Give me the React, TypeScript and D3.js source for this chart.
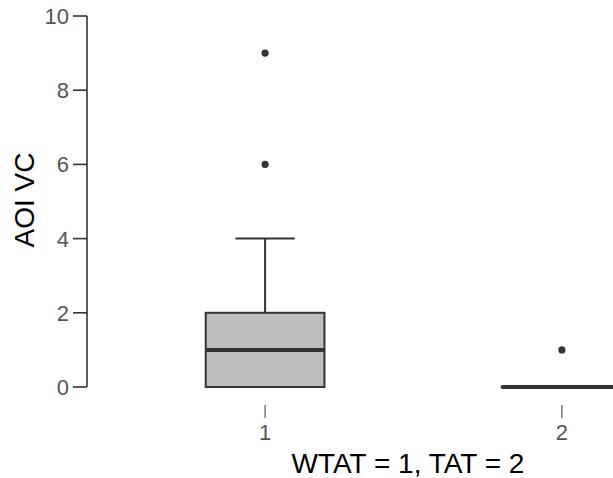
import React, { useEffect, useRef } from 'react';
import * as d3 from 'd3';

const groups = ['1', '2'];
const q1 = [0, 0];
const medians = [1, 0];
const q3 = [2, 0];
const whiskerLow = [0, 0];
const whiskerHigh = [4, 0];
const outliers = [[6, 9], [1]];
const yTicks = [0, 2, 4, 6, 8, 10];

const width = 613;
const height = 478;

const App = () => {
  const ref = useRef<SVGSVGElement>(null);

  useEffect(() => {
    const svg = d3.select(ref.current);
    svg.selectAll('*').remove();

    // discrete positions 1 and 2, with ggplot-like 0.6 expansion
    const x = d3.scaleLinear().domain([0.4, 2.6]).range([87, 740]);
    const y = d3.scaleLinear().domain([0, 10]).range([387, 16]);
    const boxW = x(1.2) - x(0.8);

    const font = 'Arial, "Liberation Sans", sans-serif';

    // y axis
    svg.append('line')
      .attr('x1', x(0.4)).attr('x2', x(0.4))
      .attr('y1', y(10)).attr('y2', y(0))
      .attr('stroke', '#333').attr('stroke-width', 1.6);

    const yt = svg.append('g');
    yt.selectAll('line').data(yTicks).enter().append('line')
      .attr('x1', x(0.4) - 14).attr('x2', x(0.4))
      .attr('y1', d => y(d)).attr('y2', d => y(d))
      .attr('stroke', '#333').attr('stroke-width', 1.6);
    yt.selectAll('text').data(yTicks).enter().append('text')
      .attr('x', x(0.4) - 18).attr('y', d => y(d))
      .attr('dy', '0.36em')
      .attr('text-anchor', 'end')
      .attr('font-family', font).attr('font-size', 22)
      .attr('fill', '#555')
      .text(d => d);

    // x ticks
    const xt = svg.append('g');
    xt.selectAll('line').data(groups).enter().append('line')
      .attr('x1', (d, i) => x(i + 1)).attr('x2', (d, i) => x(i + 1))
      .attr('y1', 405).attr('y2', 418)
      .attr('stroke', '#555').attr('stroke-width', 1.2);
    xt.selectAll('text').data(groups).enter().append('text')
      .attr('x', (d, i) => x(i + 1)).attr('y', 440)
      .attr('text-anchor', 'middle')
      .attr('font-family', font).attr('font-size', 22)
      .attr('fill', '#555')
      .text(d => d);

    // boxes
    groups.forEach((g, i) => {
      const cx = x(i + 1);
      const gg = svg.append('g');
      // whiskers
      gg.append('line')
        .attr('x1', cx).attr('x2', cx)
        .attr('y1', y(q3[i])).attr('y2', y(whiskerHigh[i]))
        .attr('stroke', '#333').attr('stroke-width', 2);
      gg.append('line')
        .attr('x1', cx).attr('x2', cx)
        .attr('y1', y(q1[i])).attr('y2', y(whiskerLow[i]))
        .attr('stroke', '#333').attr('stroke-width', 2);
      if (whiskerHigh[i] > q3[i]) {
        gg.append('line')
          .attr('x1', cx - boxW / 4).attr('x2', cx + boxW / 4)
          .attr('y1', y(whiskerHigh[i])).attr('y2', y(whiskerHigh[i]))
          .attr('stroke', '#333').attr('stroke-width', 2);
      }
      gg.append('rect')
        .attr('x', cx - boxW / 2).attr('width', boxW)
        .attr('y', y(q3[i])).attr('height', y(q1[i]) - y(q3[i]))
        .attr('fill', '#bebebe').attr('stroke', '#333').attr('stroke-width', 2);
      gg.append('line')
        .attr('x1', cx - boxW / 2).attr('x2', cx + boxW / 2)
        .attr('y1', y(medians[i])).attr('y2', y(medians[i]))
        .attr('stroke', '#333').attr('stroke-width', 4)
        .attr('stroke-linecap', q3[i] === q1[i] ? 'round' : 'butt');
      gg.selectAll('circle').data(outliers[i]).enter().append('circle')
        .attr('cx', cx).attr('cy', d => y(d))
        .attr('r', 3.6).attr('fill', '#333');
    });

    // axis titles
    svg.append('text')
      .attr('x', 408).attr('y', 473)
      .attr('text-anchor', 'middle')
      .attr('font-family', font).attr('font-size', 28)
      .attr('fill', '#000')
      .text('WTAT = 1, TAT = 2');

    svg.append('text')
      .attr('transform', `translate(34, 200) rotate(-90)`)
      .attr('text-anchor', 'middle')
      .attr('font-family', font).attr('font-size', 28)
      .attr('fill', '#000')
      .text('AOI VC');
  }, []);

  return (
    <div style={{ position: 'absolute', left: 0, top: 0 }}>
      <svg ref={ref} width={width} height={height} style={{ display: 'block', background: '#fff' }} />
    </div>
  );
};

export default App;
